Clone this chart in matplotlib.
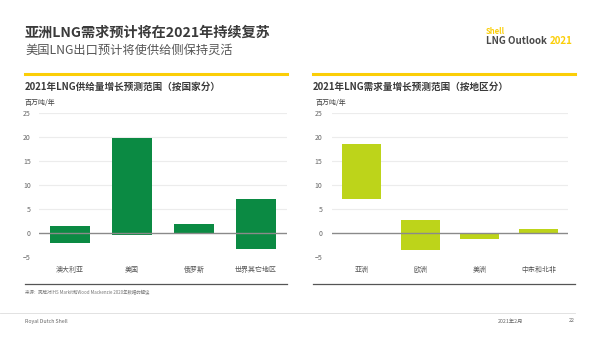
import numpy as np
import matplotlib
matplotlib.use('Agg')
import matplotlib.pyplot as plt
from matplotlib.lines import Line2D

plt.rcParams['font.family'] = ['Noto Sans CJK SC', 'DejaVu Sans']

# supply growth range by country (Mt/yr): low / high
supply_cats = ['澳大利亚', '美国', '俄罗斯', '世界其它地区']
supply_low = [-2.1, -0.4, 0.0, -3.3]
supply_high = [1.4, 19.7, 1.9, 7.1]

# demand growth range by region (Mt/yr): low / high
demand_cats = ['亚洲', '欧洲', '美洲', '中东和北非']
demand_low = [7.0, -3.5, -1.3, 0.0]
demand_high = [18.5, 2.7, 0.0, 0.8]

yticks = [-5, 0, 5, 10, 15, 20, 25]

GREEN = '#0b8a43'
LIME = '#bdd41a'
YELLOW = '#fbce07'
GRID = '#ececec'
TEXT = '#404040'

W, H = 600, 337
fig = plt.figure(figsize=(6, 3.37), dpi=100)


def fx(px):
    return px / W


def fy(py):
    return 1 - py / H


def range_chart(rect, cats, low, high, color, pad):
    ax = fig.add_axes(rect)
    x = np.arange(len(cats))
    low = np.array(low)
    high = np.array(high)
    ax.bar(x, high - low, bottom=low, width=0.66, color=color, zorder=2)
    ax.axhline(0, color='#8a8a8a', linewidth=1.0, zorder=3)
    for t in yticks[1:]:
        if t != 0:
            ax.axhline(t, color=GRID, linewidth=0.8, zorder=1)
    ax.set_xlim(-0.5, len(cats) - 0.5)
    ax.set_ylim(-5, 25)
    ax.set_yticks(yticks)
    ax.set_xticks(x)
    ax.set_xticklabels(cats)
    ax.tick_params(axis='y', length=0, pad=pad, labelsize=5, labelcolor='#666666')
    ax.tick_params(axis='x', length=0, pad=6, labelsize=5, labelcolor='#555555')
    for s in ax.spines.values():
        s.set_visible(False)
    ax.patch.set_alpha(0)
    return ax


range_chart([fx(39), fy(257.3), fx(248), (257.3 - 112.7) / H],
            supply_cats, supply_low, supply_high, GREEN, 6)
range_chart([fx(332), fy(257.3), fx(236), (257.3 - 112.7) / H],
            demand_cats, demand_low, demand_high, LIME, 7)

# header
fig.text(fx(25), fy(33), '亚洲LNG需求预计将在2021年持续复苏', fontsize=10.2,
         fontweight='bold', color='#3a3a3a', va='center')
fig.text(fx(25), fy(50), '美国LNG出口预计将使供给侧保持灵活', fontsize=8.8,
         color='#555555', va='center')
fig.text(fx(486), fy(31), 'Shell', fontsize=5.5, fontweight='bold',
         color=YELLOW, va='center')
logo = fig.text(fx(486), fy(40.5), 'LNG Outlook', fontsize=7, fontweight='bold',
                color='#4a4a4a', va='center')
renderer = fig.canvas.get_renderer()
logo_end = logo.get_window_extent(renderer).x1
fig.text((logo_end + 3) / W, fy(40.5), '2021', fontsize=7, fontweight='bold',
         color=YELLOW, va='center')

# panel decorations
for x0, x1 in [(25, 287), (313, 575)]:
    fig.add_artist(Line2D([fx(x0), fx(x1)], [fy(74), fy(74)], color=YELLOW,
                          linewidth=2.2, transform=fig.transFigure))
    fig.add_artist(Line2D([fx(x0), fx(x1)], [fy(284), fy(284)], color='#555555',
                          linewidth=0.9, transform=fig.transFigure))

fig.text(fx(25), fy(87), '2021年LNG供给量增长预测范围（按国家分）', fontsize=6.9,
         fontweight='bold', color='#3a3a3a', va='center')
fig.text(fx(313), fy(87), '2021年LNG需求量增长预测范围（按地区分）', fontsize=6.9,
         fontweight='bold', color='#3a3a3a', va='center')
fig.text(fx(25), fy(103), '百万吨/年', fontsize=5, color=TEXT, va='center')
fig.text(fx(316), fy(103), '百万吨/年', fontsize=5, color=TEXT, va='center')

# footer
fig.text(fx(25), fy(292.5), '来源：壳牌对IHS Markit和Wood Mackenzie 2020年数据的解读',
         fontsize=3.2, color='#777777', va='center')
fig.add_artist(Line2D([0, fx(575)], [fy(313), fy(313)], color='#dddddd',
                      linewidth=0.6, transform=fig.transFigure))
fig.text(fx(25), fy(321), 'Royal Dutch Shell', fontsize=3.8, color='#666666', va='center')
fig.text(fx(498), fy(321), '2021年2月', fontsize=3.8, color='#666666', va='center')
fig.text(fx(575), fy(321), '22', fontsize=3.8, color='#666666', va='center', ha='right')

fig.savefig('out.png', dpi=100)
